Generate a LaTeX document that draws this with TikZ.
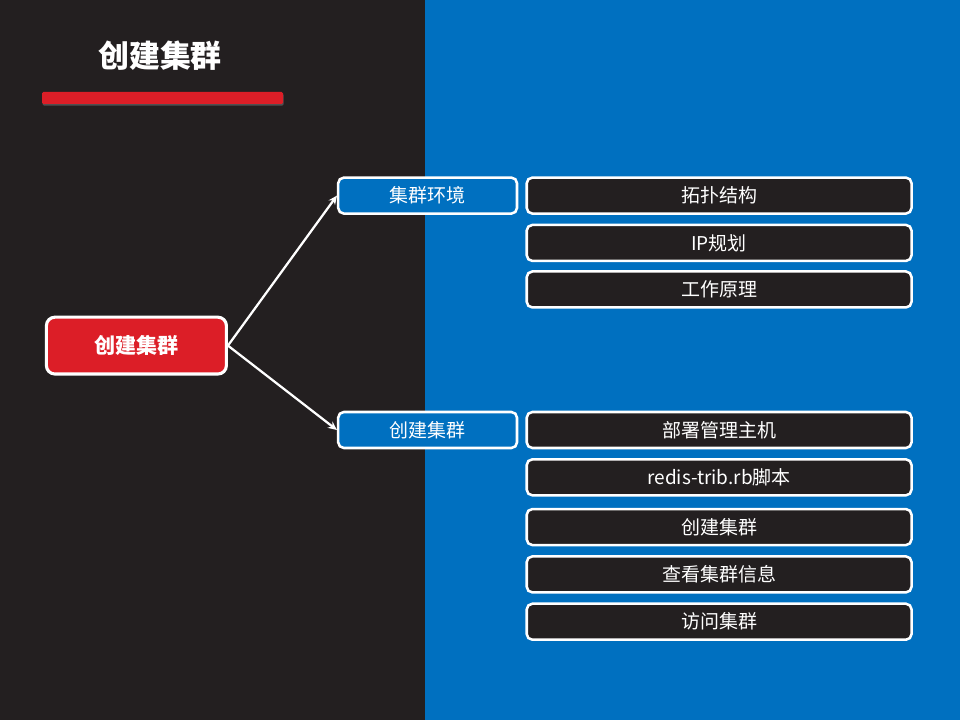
\documentclass[tikz,border=0pt]{standalone}
\usepackage{fontspec}
\setmainfont{Noto Sans CJK SC}
\usetikzlibrary{arrows.meta,positioning,shadows}

\definecolor{panel}{HTML}{231F20}
\definecolor{slideblue}{HTML}{0070C0}
\definecolor{slidered}{HTML}{DC1E27}

\begin{document}
\begin{tikzpicture}[
  root/.style={draw=white,line width=2.2pt,rounded corners=6pt,fill=slidered,
    text=white,font=\bfseries\fontsize{15}{18}\selectfont,
    minimum width=4.5cm,minimum height=1.42cm},
  topic/.style={draw=white,line width=1.8pt,rounded corners=4pt,fill=slideblue,
    text=white,font=\fontsize{13.5}{16}\selectfont,
    minimum width=4.47cm,minimum height=0.9cm},
  item/.style={draw=white,line width=1.8pt,rounded corners=4pt,fill=panel,
    text=white,font=\fontsize{13.5}{16}\selectfont,
    minimum width=9.62cm,minimum height=0.9cm},
  link/.style={-{Stealth[length=2.2mm,width=2mm]},white,line width=1.6pt}
]
  % background panels
  \fill[panel] (0,0) rectangle (10.625,18);
  \fill[slideblue] (10.625,0) rectangle (24,18);
  \useasboundingbox (0,0) rectangle (24,18);

  % title and bar
  \node[text=white,font=\bfseries\fontsize{22}{26}\selectfont] (title) at (4.0,16.62) {创建集群};
  \fill[slidered,rounded corners=1pt,drop shadow={opacity=0.5,shadow xshift=0.5pt,shadow yshift=-1.2pt}]
    (1.05,15.4) rectangle (7.075,15.7);

  % nodes
  \node[root] (create) at (3.41,9.36) {创建集群};
  \node[topic] (env) at (10.69,13.11) {集群环境};
  \node[topic] (build) at (10.69,7.25) {创建集群};

  \node[item,right=0.18cm of env] (topo) {拓扑结构};
  \node[item,below=0.22cm of topo] (ip) {IP规划};
  \node[item,below=0.2cm of ip] (work) {工作原理};

  \node[item,right=0.18cm of build] (host) {部署管理主机};
  \node[item,below=0.22cm of host] (script) {redis-trib.rb脚本};
  \node[item,below=0.28cm of script] (cluster) {创建集群};
  \node[item,below=0.22cm of cluster] (info) {查看集群信息};
  \node[item,below=0.22cm of info] (visit) {访问集群};

  % connectors
  \draw[link] (create.east) -- (env.west);
  \draw[link] (create.east) -- (build.west);
\end{tikzpicture}
\end{document}
